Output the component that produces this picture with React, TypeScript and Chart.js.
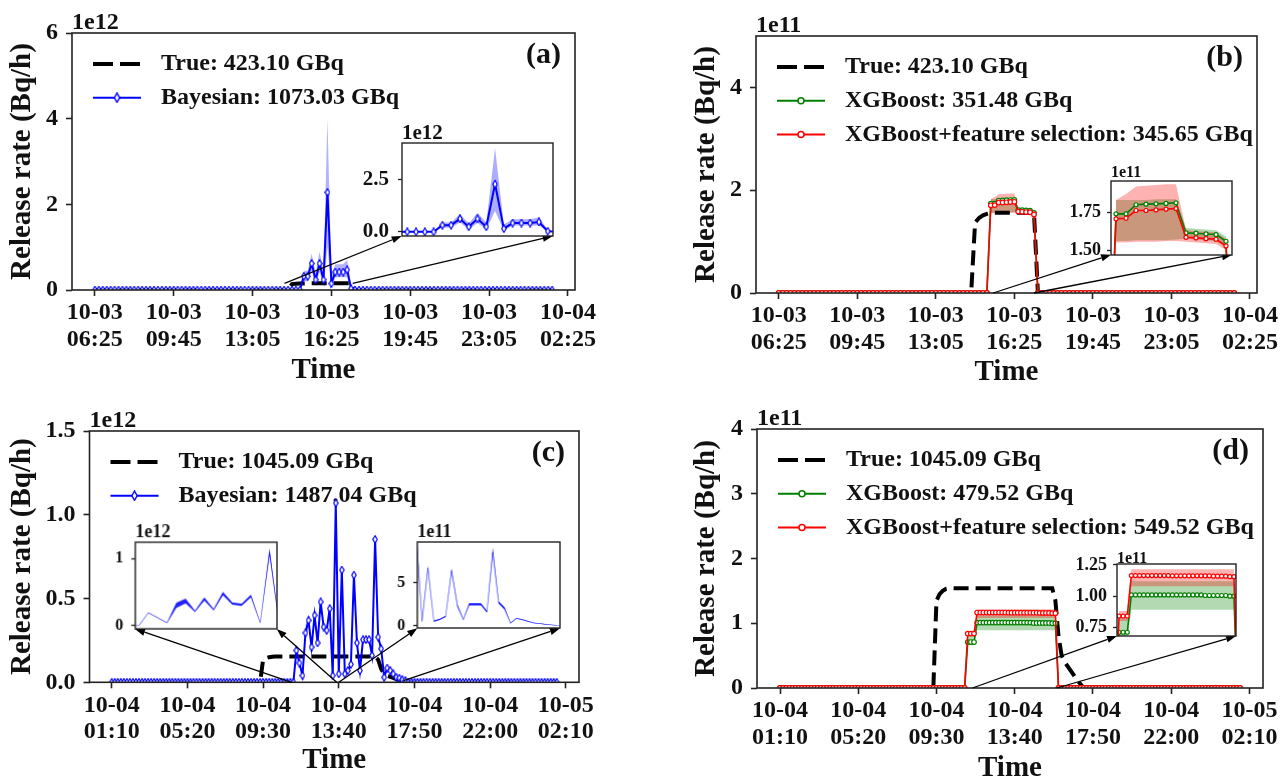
import React, { useEffect, useRef } from "react";
import { Chart, registerables } from "chart.js";

Chart.register(...registerables);

// ---------------------------------------------------------------- data
const STEP_MIN = 10; // one estimate every 10 minutes

// panels (a)/(b): 10-03 06:25 ... 10-04 01:45
const AB_TICKS = [0, 200, 400, 600, 800, 1000, 1200];
const AB_TICK_LABELS = [
  ["10-03", "06:25"], ["10-03", "09:45"], ["10-03", "13:05"], ["10-03", "16:25"],
  ["10-03", "19:45"], ["10-03", "23:05"], ["10-04", "02:25"],
];
// panels (c)/(d): 10-04 01:10 ... 10-05 01:40
const CD_TICKS = [0, 250, 500, 750, 1000, 1250, 1500];
const CD_TICK_LABELS = [
  ["10-04", "01:10"], ["10-04", "05:20"], ["10-04", "09:30"], ["10-04", "13:40"],
  ["10-04", "17:50"], ["10-04", "22:00"], ["10-05", "02:10"],
];

// Release rates in Bq/h
const TRUE_AB = [
  0,0,0,0,0,0,0,0,0,0,
  0,0,0,0,0,0,0,0,0,0,
  0,0,0,0,0,0,0,0,0,0,
  0,0,0,0,0,0,0,0,0,0,
  0,0,0,0,0,0,0,0,0,0,
  1.37e11,1.46e11,1.51e11,1.54e11,1.56e11,1.56e11,1.56e11,1.56e11,1.56e11,1.56e11,
  1.56e11,1.56e11,1.56e11,1.56e11,1.56e11,1.56e11,0,0,0,0,
  0,0,0,0,0,0,0,0,0,0,
  0,0,0,0,0,0,0,0,0,0,
  0,0,0,0,0,0,0,0,0,0,
  0,0,0,0,0,0,0,0,0,0,
  0,0,0,0,0,0,0,
];
const BAYES_A = [
  0,0,0,0,0,0,0,0,0,0,
  0,0,0,0,0,0,0,0,0,0,
  0,0,0,0,0,0,0,0,0,0,
  0,0,0,0,0,0,0,0,0,0,
  0,0,0,0,0,0,0,0,0,0,
  0,0,0,0.32e12,0.32e12,0.62e12,0.24e12,0.62e12,0.24e12,2.28e12,
  0.15e12,0.42e12,0.42e12,0.42e12,0.47e12,0.03e12,0,0,0,0,
  0,0,0,0,0,0,0,0,0,0,
  0,0,0,0,0,0,0,0,0,0,
  0,0,0,0,0,0,0,0,0,0,
  0,0,0,0,0,0,0,0,0,0,
  0,0,0,0,0,0,0,
];
const BAND_A_START = 52;
const BAND_A_LO = [0,0.2e12,0.2e12,0.45e12,0.1e12,0.42e12,0.1e12,1.0e12,0.05e12,0.3e12,0.3e12,0.3e12,0.3e12,0];
const BAND_A_HI = [0,0.45e12,0.45e12,0.85e12,0.4e12,0.9e12,0.45e12,4.0e12,0.35e12,0.6e12,0.6e12,0.6e12,0.7e12,0.1e12];

const XGB_B = [
  0,0,0,0,0,0,0,0,0,0,
  0,0,0,0,0,0,0,0,0,0,
  0,0,0,0,0,0,0,0,0,0,
  0,0,0,0,0,0,0,0,0,0,
  0,0,0,0,0,0,0,0,0,0,
  0,0,0,0,1.739e11,1.739e11,1.799e11,1.803e11,1.805e11,1.808e11,
  1.812e11,1.613e11,1.611e11,1.606e11,1.602e11,1.558e11,0,0,0,0,
  0,0,0,0,0,0,0,0,0,0,
  0,0,0,0,0,0,0,0,0,0,
  0,0,0,0,0,0,0,0,0,0,
  0,0,0,0,0,0,0,0,0,0,
  0,0,0,0,0,0,0,
];
const XGBFS_B = [
  0,0,0,0,0,0,0,0,0,0,
  0,0,0,0,0,0,0,0,0,0,
  0,0,0,0,0,0,0,0,0,0,
  0,0,0,0,0,0,0,0,0,0,
  0,0,0,0,0,0,0,0,0,0,
  0,0,0,0,1.706e11,1.710e11,1.761e11,1.761e11,1.765e11,1.770e11,
  1.774e11,1.584e11,1.580e11,1.575e11,1.571e11,1.527e11,0,0,0,0,
  0,0,0,0,0,0,0,0,0,0,
  0,0,0,0,0,0,0,0,0,0,
  0,0,0,0,0,0,0,0,0,0,
  0,0,0,0,0,0,0,0,0,0,
  0,0,0,0,0,0,0,
];
const BAND_B_START = 54;
const XGB_B_LO = [1.56e11,1.56e11,1.565e11,1.565e11,1.565e11,1.565e11,1.57e11,1.575e11,1.57e11,1.565e11,1.56e11,1.515e11];
const XGB_B_HI = [1.83e11,1.83e11,1.83e11,1.83e11,1.835e11,1.835e11,1.835e11,1.645e11,1.64e11,1.635e11,1.63e11,1.59e11];
const XGBFS_B_LO = [1.55e11,1.55e11,1.555e11,1.555e11,1.555e11,1.56e11,1.56e11,1.555e11,1.55e11,1.545e11,1.54e11,1.50e11];
const XGBFS_B_HI = [1.83e11,1.87e11,1.92e11,1.925e11,1.93e11,1.935e11,1.935e11,1.63e11,1.625e11,1.62e11,1.615e11,1.575e11];

const TRUE_CD = [
  0,0,0,0,0,0,0,0,0,0,
  0,0,0,0,0,0,0,0,0,0,
  0,0,0,0,0,0,0,0,0,0,
  0,0,0,0,0,0,0,0,0,0,
  0,0,0,0,0,0,0,0,0,0,
  1.35e11,1.45e11,1.50e11,1.53e11,1.54e11,1.54e11,1.54e11,1.54e11,1.54e11,1.54e11,
  1.54e11,1.54e11,1.54e11,1.54e11,1.54e11,1.54e11,1.54e11,1.54e11,1.54e11,1.54e11,
  1.54e11,1.54e11,1.54e11,1.54e11,1.54e11,1.54e11,1.54e11,1.54e11,1.54e11,1.54e11,
  1.54e11,1.54e11,1.54e11,1.54e11,1.54e11,1.54e11,1.54e11,1.54e11,1.35e11,0.80e11,
  0.50e11,0.40e11,0.33e11,0.26e11,0.19e11,0.12e11,0.06e11,0,0,0,
  0,0,0,0,0,0,0,0,0,0,
  0,0,0,0,0,0,0,0,0,0,
  0,0,0,0,0,0,0,0,0,0,
  0,0,0,0,0,0,0,0,0,0,
  0,0,0,0,0,0,0,0,
];
const BAYES_C = [
  0,0,0,0,0,0,0,0,0,0,
  0,0,0,0,0,0,0,0,0,0,
  0,0,0,0,0,0,0,0,0,0,
  0,0,0,0,0,0,0,0,0,0,
  0,0,0,0,0,0,0,0,0,0,
  0,0,0,0,0,0,0,0,0,0,
  0,0.19e12,0.115e12,0.04e12,0.295e12,0.37e12,0.21e12,0.40e12,0.235e12,0.48e12,
  0.33e12,0.31e12,0.44e12,0.04e12,1.07e12,0.05e12,0.67e12,0.05e12,0.07e12,0.107e12,
  0.64e12,0.235e12,0.07e12,0.255e12,0.255e12,0.255e12,0.16e12,0.853e12,0.27e12,0.20e12,
  0.03e12,0.085e12,0.07e12,0.05e12,0.03e12,0.025e12,0.015e12,0.01e12,0,0,
  0,0,0,0,0,0,0,0,0,0,
  0,0,0,0,0,0,0,0,0,0,
  0,0,0,0,0,0,0,0,0,0,
  0,0,0,0,0,0,0,0,0,0,
  0,0,0,0,0,0,0,0,
];
const BAND_C_START = 60;
const BAND_C_LO = [
  0,0.185e12,0.11e12,0.035e12,0.26e12,0.33e12,0.20e12,0.37e12,0.225e12,0.45e12,
  0.31e12,0.29e12,0.42e12,0.035e12,1.05e12,0.045e12,0.66e12,0.045e12,0.065e12,0.10e12,
  0.63e12,0.22e12,0.065e12,0.235e12,0.235e12,0.235e12,0.15e12,0.84e12,0.255e12,0.185e12,
  0.025e12,0.08e12,0.065e12,0.045e12,0.027e12,0.022e12,0.012e12,0.008e12,0,
];
const BAND_C_HI = [
  0.005e12,0.195e12,0.12e12,0.045e12,0.34e12,0.40e12,0.22e12,0.42e12,0.245e12,0.50e12,
  0.345e12,0.325e12,0.46e12,0.045e12,1.15e12,0.075e12,0.70e12,0.06e12,0.08e12,0.115e12,
  0.67e12,0.25e12,0.075e12,0.26e12,0.26e12,0.26e12,0.175e12,0.91e12,0.285e12,0.215e12,
  0.035e12,0.09e12,0.075e12,0.055e12,0.033e12,0.028e12,0.018e12,0.012e12,0.002e12,
];

const XGB_D = [
  0,0,0,0,0,0,0,0,0,0,
  0,0,0,0,0,0,0,0,0,0,
  0,0,0,0,0,0,0,0,0,0,
  0,0,0,0,0,0,0,0,0,0,
  0,0,0,0,0,0,0,0,0,0,
  0,0,0,0,0,0,0,0,0,0,
  0.71e11,0.71e11,0.71e11,1.01e11,1.01e11,1.01e11,1.01e11,1.01e11,1.01e11,1.01e11,
  1.01e11,1.01e11,1.01e11,1.01e11,1.01e11,1.01e11,1.01e11,1.01e11,1.01e11,1.01e11,
  1.01e11,1.005e11,1.005e11,1.005e11,1.005e11,1.005e11,1.005e11,1.0e11,1.0e11,0,
  0,0,0,0,0,0,0,0,0,0,
  0,0,0,0,0,0,0,0,0,0,
  0,0,0,0,0,0,0,0,0,0,
  0,0,0,0,0,0,0,0,0,0,
  0,0,0,0,0,0,0,0,0,0,
  0,0,0,0,0,0,0,0,
];
const XGBFS_D = [
  0,0,0,0,0,0,0,0,0,0,
  0,0,0,0,0,0,0,0,0,0,
  0,0,0,0,0,0,0,0,0,0,
  0,0,0,0,0,0,0,0,0,0,
  0,0,0,0,0,0,0,0,0,0,
  0,0,0,0,0,0,0,0,0,0,
  0.84e11,0.84e11,0.84e11,1.165e11,1.165e11,1.165e11,1.165e11,1.165e11,1.165e11,1.165e11,
  1.165e11,1.165e11,1.165e11,1.163e11,1.163e11,1.163e11,1.163e11,1.163e11,1.163e11,1.163e11,
  1.163e11,1.163e11,1.163e11,1.16e11,1.16e11,1.16e11,1.16e11,1.156e11,1.156e11,0,
  0,0,0,0,0,0,0,0,0,0,
  0,0,0,0,0,0,0,0,0,0,
  0,0,0,0,0,0,0,0,0,0,
  0,0,0,0,0,0,0,0,0,0,
  0,0,0,0,0,0,0,0,0,0,
  0,0,0,0,0,0,0,0,
];
const BAND_D_START = 60;
const XGB_D_LO = [
  0.66e11,0.66e11,0.66e11,0.89e11,0.89e11,0.89e11,0.89e11,0.89e11,0.89e11,0.89e11,
  0.89e11,0.89e11,0.89e11,0.89e11,0.89e11,0.89e11,0.89e11,0.89e11,0.89e11,0.89e11,
  0.89e11,0.89e11,0.89e11,0.89e11,0.89e11,0.89e11,0.89e11,0.89e11,0.89e11,
];
const XGB_D_HI = [
  0.82e11,0.82e11,0.82e11,1.12e11,1.12e11,1.12e11,1.12e11,1.12e11,1.12e11,1.12e11,
  1.12e11,1.12e11,1.12e11,1.12e11,1.12e11,1.12e11,1.12e11,1.12e11,1.12e11,1.12e11,
  1.12e11,1.12e11,1.12e11,1.12e11,1.12e11,1.12e11,1.12e11,1.12e11,1.12e11,
];
const XGBFS_D_LO = [
  0.80e11,0.80e11,0.80e11,1.08e11,1.08e11,1.08e11,1.08e11,1.08e11,1.08e11,1.08e11,
  1.08e11,1.08e11,1.08e11,1.08e11,1.08e11,1.08e11,1.08e11,1.08e11,1.08e11,1.08e11,
  1.08e11,1.08e11,1.08e11,1.08e11,1.08e11,1.08e11,1.08e11,1.08e11,1.08e11,
];
const XGBFS_D_HI = [
  0.88e11,0.88e11,0.88e11,1.215e11,1.215e11,1.215e11,1.215e11,1.215e11,1.215e11,1.215e11,
  1.215e11,1.215e11,1.215e11,1.215e11,1.215e11,1.215e11,1.215e11,1.215e11,1.215e11,1.215e11,
  1.215e11,1.215e11,1.215e11,1.215e11,1.215e11,1.215e11,1.215e11,1.215e11,1.215e11,
];

// legend texts
const LEG_A = ["True: 423.10 GBq", "Bayesian: 1073.03 GBq"];
const LEG_B = ["True: 423.10 GBq", "XGBoost: 351.48 GBq", "XGBoost+feature selection: 345.65 GBq"];
const LEG_C = ["True: 1045.09 GBq", "Bayesian: 1487.04 GBq"];
const LEG_D = ["True: 1045.09 GBq", "XGBoost: 479.52 GBq", "XGBoost+feature selection: 549.52 GBq"];

// inset windows (in step index units) and arrow tails [index, value in axis units]
const A_INSET_X = [48.4, 65.6];
const B_INSET_X = [53.5, 65.6];
const CL_INSET_X = [59.6, 74.8];
const CR_INSET_X = [74.2, 98.4];
const D_INSET_X = [59.5, 88.5];
const A_ARROW_FROM = [[48.1, 0.157], [65.4, 0.157]];
const B_ARROW_FROM = [[54.6, 0], [65.0, 0]];
const C_ARROW_FROM = [[59.4, 0], [74.3, 0], [75.0, 0], [96.4, 0.01]];
const D_ARROW_FROM = [[61.5, 0], [88.5, 0]];

// ---------------------------------------------------------------- style / layout
const SERIF = "'Liberation Serif', 'Times New Roman', Times, serif";
const TXT = "#111";
const FRAME = "#222";
const BLUE = "#0000ff";
const GREEN = "#008000";
const RED = "#ff0000";
const TITLE_SIZE = 29;

type R4 = [number, number, number, number];
// main canvases (page x, y, w, h) and plot areas (page l, t, r, b)
const MAIN_CANVAS: R4[] = [[0, 0, 640, 390], [640, 0, 660, 390], [0, 390, 640, 390], [640, 390, 660, 390]];
const MAIN_AREA: R4[] = [[72, 33, 575, 290], [756, 36, 1257, 293], [89.5, 431, 579, 682.3], [757, 429, 1263, 688]];
const Y_TITLE_X = [23, 707, 23, 707];
const TIME_Y = [370.5, 372.5, 760.5, 769];
// inset boxes (page l, t, w, h)
const INSET_BOX: R4[] = [
  [401.7, 142.7, 151, 93.3],
  [1111, 180.7, 121, 74],
  [135, 542.3, 141.7, 86.7],
  [417.3, 542.3, 142.7, 86],
  [1117, 564, 119, 72],
];
const IN_L = 66, IN_T = 30, IN_R = 6, IN_B = 26;
const insetCanvasRect = (b: R4): R4 => [b[0] - IN_L, b[1] - IN_T, b[2] + IN_L + IN_R, b[3] + IN_T + IN_B];

// ---------------------------------------------------------------- helpers
const pts = (arr: number[], unit: number, start = 0) =>
  arr.map((v, k) => ({ x: (start + k) * STEP_MIN, y: v / unit }));

const span = (arr: number[]) => (arr.length - 1) * STEP_MIN;

function makeDiamond(w: number, h: number, color: string, lw: number) {
  const c = document.createElement("canvas");
  c.width = w;
  c.height = h;
  const g = c.getContext("2d")!;
  const m = lw / 2 + 0.2;
  g.beginPath();
  g.moveTo(w / 2, m);
  g.lineTo(w - m, h / 2);
  g.lineTo(w / 2, h - m);
  g.lineTo(m, h / 2);
  g.closePath();
  g.fillStyle = "#fff";
  g.fill();
  g.strokeStyle = color;
  g.lineWidth = lw;
  g.stroke();
  return c;
}

const band = (hi: number[], lo: number[], start: number, unit: number, color: string, order: number) => [
  { data: pts(hi, unit, start), fill: "+1", backgroundColor: color, borderColor: "rgba(0,0,0,0)", borderWidth: 0, pointRadius: 0, order, clip: 0 },
  { data: pts(lo, unit, start), fill: false, backgroundColor: "rgba(0,0,0,0)", borderColor: "rgba(0,0,0,0)", borderWidth: 0, pointRadius: 0, order: order + 1, clip: 0 },
];
const trueLine = (arr: number[], unit: number) => ({
  data: pts(arr, unit), borderColor: "#000", borderWidth: 4, borderDash: [15, 7], pointRadius: 0, fill: false, order: 10, clip: 0,
});
const bayesLine = (arr: number[], unit: number, img: HTMLCanvasElement) => ({
  data: pts(arr, unit), borderColor: BLUE, borderWidth: 2, pointStyle: img, pointRadius: 3, fill: false, order: 1, clip: 0,
});
const xgbLine = (arr: number[], unit: number, color: string, order: number, r = 2.3) => ({
  data: pts(arr, unit), borderColor: color, borderWidth: 1.6, pointStyle: "circle", pointRadius: r, pointBorderWidth: 1.2,
  pointBackgroundColor: "#fff", pointBorderColor: color, fill: false, order, clip: 0,
});

function drawArrow(ctx: CanvasRenderingContext2D, x1: number, y1: number, x2: number, y2: number) {
  const a = Math.atan2(y2 - y1, x2 - x1);
  const hl = 10, hw = 3.6;
  const bx = x2 - hl * Math.cos(a), by = y2 - hl * Math.sin(a);
  ctx.save();
  ctx.strokeStyle = "#000";
  ctx.fillStyle = "#000";
  ctx.lineWidth = 1.3;
  ctx.beginPath();
  ctx.moveTo(x1, y1);
  ctx.lineTo(bx, by);
  ctx.stroke();
  ctx.beginPath();
  ctx.moveTo(x2, y2);
  ctx.lineTo(bx - hw * Math.sin(a), by + hw * Math.cos(a));
  ctx.lineTo(bx + hw * Math.sin(a), by - hw * Math.cos(a));
  ctx.closePath();
  ctx.fill();
  ctx.restore();
}

interface LegendItem { label: string; kind: "dash" | "diamond" | "circle"; color: string }
interface MainSpec {
  idx: number;
  xMin: number; xMax: number; xTicks: number[]; xLabels: string[][];
  yMax: number; yTicks: number[]; yLabels: string[];
  offset: string; tag: string; legend: LegendItem[];
  datasets: any[];
  arrows: { from: number[]; to: [number, number] }[];
}

function buildMain(canvas: HTMLCanvasElement, s: MainSpec, legDiamond: HTMLCanvasElement) {
  const [cx, cy, cw, ch] = MAIN_CANVAS[s.idx];
  const [al, at, ar, ab] = MAIN_AREA[s.idx];
  const tlh = TITLE_SIZE * 1.2;
  const padLeft = Y_TITLE_X[s.idx] - cx - tlh / 2;
  const yW = al - cx - padLeft;
  const xH = cy + ch - ab;
  const timePad = cy + ch - TIME_Y[s.idx] - tlh / 2;
  const tickFont = { family: SERIF, size: 24, weight: "bold" as const, lineHeight: 1.1 };
  const titleFont = { family: SERIF, size: TITLE_SIZE, weight: "bold" as const };

  const deco = {
    id: "mainDeco",
    beforeDatasetsDraw(chart: any) {
      const ctx: CanvasRenderingContext2D = chart.ctx;
      const a = chart.chartArea;
      const x0 = a.left + 21;
      s.legend.forEach((it, k) => {
        const y = a.top + 31 + k * 33.7;
        ctx.save();
        ctx.strokeStyle = it.color;
        ctx.lineWidth = it.kind === "dash" ? 4 : 2;
        ctx.setLineDash(it.kind === "dash" ? [20, 7] : []);
        ctx.beginPath();
        ctx.moveTo(x0, y);
        ctx.lineTo(x0 + 48, y);
        ctx.stroke();
        ctx.setLineDash([]);
        if (it.kind === "diamond") ctx.drawImage(legDiamond, x0 + 24 - legDiamond.width / 2, y - legDiamond.height / 2);
        if (it.kind === "circle") {
          ctx.beginPath();
          ctx.arc(x0 + 24, y, 3, 0, Math.PI * 2);
          ctx.fillStyle = "#fff";
          ctx.fill();
          ctx.lineWidth = 1.5;
          ctx.stroke();
        }
        ctx.fillStyle = TXT;
        ctx.font = `bold 24px ${SERIF}`;
        ctx.textAlign = "left";
        ctx.textBaseline = "middle";
        ctx.fillText(it.label, x0 + 68, y);
        ctx.restore();
      });
    },
    afterDatasetsDraw(chart: any) {
      const ctx: CanvasRenderingContext2D = chart.ctx;
      const a = chart.chartArea;
      ctx.save();
      ctx.strokeStyle = FRAME;
      ctx.lineWidth = 1.6;
      ctx.strokeRect(a.left, a.top, a.right - a.left, a.bottom - a.top);
      ctx.fillStyle = TXT;
      ctx.font = `bold 30px ${SERIF}`;
      ctx.textAlign = "right";
      ctx.textBaseline = "middle";
      ctx.fillText(s.tag, a.right - 14, a.top + 22);
      ctx.font = `bold 24px ${SERIF}`;
      ctx.textAlign = "left";
      ctx.textBaseline = "alphabetic";
      ctx.fillText(s.offset, a.left, a.top - 4);
      ctx.restore();
      const xs = chart.scales.x, ys = chart.scales.y;
      s.arrows.forEach((arw) => {
        drawArrow(ctx, xs.getPixelForValue(arw.from[0] * STEP_MIN), ys.getPixelForValue(arw.from[1]), arw.to[0] - cx, arw.to[1] - cy);
      });
    },
  };

  return new Chart(canvas, {
    type: "line",
    data: { datasets: s.datasets },
    plugins: [deco],
    options: {
      responsive: false,
      animation: false,
      events: [],
      layout: { padding: { left: padLeft, top: at - cy, right: cx + cw - ar, bottom: 0 } },
      plugins: { legend: { display: false }, tooltip: { enabled: false } },
      scales: {
        x: {
          type: "linear",
          min: s.xMin,
          max: s.xMax,
          afterBuildTicks: (sc: any) => { sc.ticks = s.xTicks.map((v) => ({ value: v })); },
          afterFit: (sc: any) => { sc.height = xH; },
          ticks: {
            autoSkip: false, maxRotation: 0, minRotation: 0, padding: 4, color: TXT, font: tickFont,
            callback: (v: any) => s.xLabels[s.xTicks.indexOf(Number(v))] ?? "",
          },
          grid: { display: true, drawOnChartArea: false, drawTicks: true, tickLength: 6, tickWidth: 1.6, tickColor: FRAME },
          border: { display: false },
          title: { display: true, text: "Time", color: TXT, font: titleFont, padding: { top: 0, bottom: timePad } },
        },
        y: {
          type: "linear",
          min: 0,
          max: s.yMax,
          afterBuildTicks: (sc: any) => { sc.ticks = s.yTicks.map((v) => ({ value: v })); },
          afterFit: (sc: any) => { sc.width = yW; },
          ticks: {
            autoSkip: false, padding: 8, color: TXT, font: { family: SERIF, size: 24, weight: "bold" },
            callback: (v: any) => s.yLabels[s.yTicks.indexOf(Number(v))] ?? "",
          },
          grid: { display: true, drawOnChartArea: false, drawTicks: true, tickLength: 6, tickWidth: 1.6, tickColor: FRAME },
          border: { display: false },
          title: { display: true, text: "Release rate (Bq/h)", color: TXT, font: titleFont, padding: { top: 0, bottom: 0 } },
        },
      },
    } as any,
  });
}

interface InsetSpec {
  idx: number;
  xIdx: number[]; yMin: number; yMax: number; yTicks: number[]; yLabels: string[];
  tickSize: number; tickPad: number; offset: string; offsetSize: number; offsetGap: number;
  datasets: any[];
}

function buildInset(canvas: HTMLCanvasElement, s: InsetSpec) {
  const deco = {
    id: "insetDeco",
    beforeDraw(chart: any) {
      const ctx: CanvasRenderingContext2D = chart.ctx;
      const a = chart.chartArea;
      ctx.save();
      ctx.fillStyle = "#fff";
      ctx.fillRect(a.left, a.top, a.right - a.left, a.bottom - a.top);
      ctx.restore();
    },
    afterDatasetsDraw(chart: any) {
      const ctx: CanvasRenderingContext2D = chart.ctx;
      const a = chart.chartArea;
      ctx.save();
      ctx.strokeStyle = FRAME;
      ctx.lineWidth = 1.4;
      ctx.strokeRect(a.left, a.top, a.right - a.left, a.bottom - a.top);
      ctx.fillStyle = TXT;
      ctx.font = `bold ${s.offsetSize}px ${SERIF}`;
      ctx.textAlign = "left";
      ctx.textBaseline = "alphabetic";
      ctx.fillText(s.offset, a.left, a.top - s.offsetGap);
      ctx.restore();
    },
  };
  return new Chart(canvas, {
    type: "line",
    data: { datasets: s.datasets },
    plugins: [deco],
    options: {
      responsive: false,
      animation: false,
      events: [],
      layout: { padding: { left: 0, top: IN_T, right: IN_R, bottom: IN_B } },
      plugins: { legend: { display: false }, tooltip: { enabled: false } },
      scales: {
        x: { type: "linear", display: false, min: s.xIdx[0] * STEP_MIN, max: s.xIdx[1] * STEP_MIN },
        y: {
          type: "linear",
          min: s.yMin,
          max: s.yMax,
          afterBuildTicks: (sc: any) => { sc.ticks = s.yTicks.map((v) => ({ value: v })); },
          afterFit: (sc: any) => { sc.width = IN_L; },
          ticks: {
            autoSkip: false, padding: s.tickPad, color: TXT, font: { family: SERIF, size: s.tickSize, weight: "bold" },
            callback: (v: any) => s.yLabels[s.yTicks.indexOf(Number(v))] ?? "",
          },
          grid: { display: true, drawOnChartArea: false, drawTicks: true, tickLength: 4, tickWidth: 1.3, tickColor: FRAME },
          border: { display: false },
        },
      },
    } as any,
  });
}

const corners = (b: R4): [[number, number], [number, number]] => [[b[0], b[1] + b[3]], [b[0] + b[2], b[1] + b[3]]];

// ---------------------------------------------------------------- component
export default function App() {
  const refs = useRef<(HTMLCanvasElement | null)[]>([]);

  useEffect(() => {
    const dia = makeDiamond(6, 9, BLUE, 1.2);
    const legDia = makeDiamond(7, 11, BLUE, 1.4);
    const abM = span(TRUE_AB) * 0.05;
    const cdM = span(TRUE_CD) * 0.05;
    const [aBL, aBR] = corners(INSET_BOX[0]);
    const [bBL, bBR] = corners(INSET_BOX[1]);
    const [clBL, clBR] = corners(INSET_BOX[2]);
    const [crBL, crBR] = corners(INSET_BOX[3]);
    const [dBL, dBR] = corners(INSET_BOX[4]);

    const mains: MainSpec[] = [
      {
        idx: 0, xMin: -abM, xMax: span(TRUE_AB) + abM, xTicks: AB_TICKS, xLabels: AB_TICK_LABELS,
        yMax: 6, yTicks: [0, 2, 4, 6], yLabels: ["0", "2", "4", "6"], offset: "1e12", tag: "(a)",
        legend: [{ label: LEG_A[0], kind: "dash", color: "#000" }, { label: LEG_A[1], kind: "diamond", color: BLUE }],
        datasets: [
          ...band(BAND_A_HI, BAND_A_LO, BAND_A_START, 1e12, "rgba(0,0,255,0.3)", 20),
          trueLine(TRUE_AB, 1e12),
          bayesLine(BAYES_A, 1e12, dia),
        ],
        arrows: [{ from: A_ARROW_FROM[0], to: aBL }, { from: A_ARROW_FROM[1], to: aBR }],
      },
      {
        idx: 1, xMin: -abM, xMax: span(TRUE_AB) + abM, xTicks: AB_TICKS, xLabels: AB_TICK_LABELS,
        yMax: 5, yTicks: [0, 2, 4], yLabels: ["0", "2", "4"], offset: "1e11", tag: "(b)",
        legend: [
          { label: LEG_B[0], kind: "dash", color: "#000" },
          { label: LEG_B[1], kind: "circle", color: GREEN },
          { label: LEG_B[2], kind: "circle", color: RED },
        ],
        datasets: [
          ...band(XGB_B_HI, XGB_B_LO, BAND_B_START, 1e11, "rgba(0,128,0,0.3)", 22),
          ...band(XGBFS_B_HI, XGBFS_B_LO, BAND_B_START, 1e11, "rgba(255,0,0,0.3)", 20),
          trueLine(TRUE_AB, 1e11),
          xgbLine(XGB_B, 1e11, GREEN, 3),
          xgbLine(XGBFS_B, 1e11, RED, 2),
        ],
        arrows: [{ from: B_ARROW_FROM[0], to: bBL }, { from: B_ARROW_FROM[1], to: bBR }],
      },
      {
        idx: 2, xMin: -cdM, xMax: span(TRUE_CD) + cdM, xTicks: CD_TICKS, xLabels: CD_TICK_LABELS,
        yMax: 1.5, yTicks: [0, 0.5, 1, 1.5], yLabels: ["0.0", "0.5", "1.0", "1.5"], offset: "1e12", tag: "(c)",
        legend: [{ label: LEG_C[0], kind: "dash", color: "#000" }, { label: LEG_C[1], kind: "diamond", color: BLUE }],
        datasets: [
          ...band(BAND_C_HI, BAND_C_LO, BAND_C_START, 1e12, "rgba(0,0,255,0.3)", 20),
          trueLine(TRUE_CD, 1e12),
          bayesLine(BAYES_C, 1e12, dia),
        ],
        arrows: [
          { from: C_ARROW_FROM[0], to: clBL }, { from: C_ARROW_FROM[1], to: clBR },
          { from: C_ARROW_FROM[2], to: crBL }, { from: C_ARROW_FROM[3], to: crBR },
        ],
      },
      {
        idx: 3, xMin: -cdM, xMax: span(TRUE_CD) + cdM, xTicks: CD_TICKS, xLabels: CD_TICK_LABELS,
        yMax: 4, yTicks: [0, 1, 2, 3, 4], yLabels: ["0", "1", "2", "3", "4"], offset: "1e11", tag: "(d)",
        legend: [
          { label: LEG_D[0], kind: "dash", color: "#000" },
          { label: LEG_D[1], kind: "circle", color: GREEN },
          { label: LEG_D[2], kind: "circle", color: RED },
        ],
        datasets: [
          ...band(XGB_D_HI, XGB_D_LO, BAND_D_START, 1e11, "rgba(0,128,0,0.3)", 22),
          ...band(XGBFS_D_HI, XGBFS_D_LO, BAND_D_START, 1e11, "rgba(255,0,0,0.3)", 20),
          trueLine(TRUE_CD, 1e11),
          xgbLine(XGB_D, 1e11, GREEN, 3),
          xgbLine(XGBFS_D, 1e11, RED, 2),
        ],
        arrows: [{ from: D_ARROW_FROM[0], to: dBL }, { from: D_ARROW_FROM[1], to: dBR }],
      },
    ];

    const thinC = (unit: number) => ({
      data: pts(BAYES_C, unit), borderColor: "rgba(0,0,255,0.35)", borderWidth: 1, pointRadius: 0, fill: false, order: 1, clip: 0,
    });

    const insets: InsetSpec[] = [
      {
        idx: 0, xIdx: A_INSET_X, yMin: -0.2, yMax: 4.25, yTicks: [0, 2.5], yLabels: ["0.0", "2.5"],
        tickSize: 21, tickPad: 9, offset: "1e12", offsetSize: 21, offsetGap: 4,
        datasets: [...band(BAND_A_HI, BAND_A_LO, BAND_A_START, 1e12, "rgba(0,0,255,0.32)", 20), bayesLine(BAYES_A, 1e12, dia)],
      },
      {
        idx: 1, xIdx: B_INSET_X, yMin: 1.467, yMax: 1.956, yTicks: [1.5, 1.75], yLabels: ["1.50", "1.75"],
        tickSize: 18, tickPad: 6, offset: "1e11", offsetSize: 16, offsetGap: 4,
        datasets: [
          ...band(XGB_B_HI, XGB_B_LO, BAND_B_START, 1e11, "rgba(0,128,0,0.3)", 22),
          ...band(XGBFS_B_HI, XGBFS_B_LO, BAND_B_START, 1e11, "rgba(255,0,0,0.3)", 20),
          xgbLine(XGB_B, 1e11, GREEN, 3, 2),
          xgbLine(XGBFS_B, 1e11, RED, 2, 2),
        ],
      },
      {
        idx: 2, xIdx: CL_INSET_X, yMin: -0.05, yMax: 1.24, yTicks: [0, 1], yLabels: ["0", "1"],
        tickSize: 16, tickPad: 8, offset: "1e12", offsetSize: 18, offsetGap: 5,
        datasets: [...band(BAND_C_HI, BAND_C_LO, BAND_C_START, 1e12, "rgba(0,0,255,0.85)", 20), thinC(1e12)],
      },
      {
        idx: 3, xIdx: CR_INSET_X, yMin: -0.27, yMax: 9.75, yTicks: [0, 5], yLabels: ["0", "5"],
        tickSize: 16, tickPad: 8, offset: "1e11", offsetSize: 18, offsetGap: 5,
        datasets: [...band(BAND_C_HI, BAND_C_LO, BAND_C_START, 1e11, "rgba(0,0,255,0.85)", 20), thinC(1e11)],
      },
      {
        idx: 4, xIdx: D_INSET_X, yMin: 0.68, yMax: 1.258, yTicks: [0.75, 1, 1.25], yLabels: ["0.75", "1.00", "1.25"],
        tickSize: 18, tickPad: 6, offset: "1e11", offsetSize: 16, offsetGap: 1,
        datasets: [
          ...band(XGB_D_HI, XGB_D_LO, BAND_D_START, 1e11, "rgba(0,128,0,0.3)", 22),
          ...band(XGBFS_D_HI, XGBFS_D_LO, BAND_D_START, 1e11, "rgba(255,0,0,0.3)", 20),
          xgbLine(XGB_D, 1e11, GREEN, 3, 2),
          xgbLine(XGBFS_D, 1e11, RED, 2, 2),
        ],
      },
    ];

    const charts: Chart[] = [];
    mains.forEach((s, k) => { const c = refs.current[k]; if (c) charts.push(buildMain(c, s, legDia)); });
    insets.forEach((s, k) => { const c = refs.current[4 + k]; if (c) charts.push(buildInset(c, s)); });
    return () => charts.forEach((c) => c.destroy());
  }, []);

  const rects: R4[] = [...MAIN_CANVAS, ...INSET_BOX.map(insetCanvasRect)];
  return (
    <div style={{ position: "absolute", left: 0, top: 0, width: 1280, height: 780, overflow: "hidden", background: "#fff" }}>
      {rects.map((r, k) => (
        <canvas
          key={k}
          ref={(el) => { refs.current[k] = el; }}
          width={r[2]}
          height={r[3]}
          style={{ position: "absolute", left: r[0], top: r[1], width: r[2], height: r[3] }}
        />
      ))}
    </div>
  );
}
